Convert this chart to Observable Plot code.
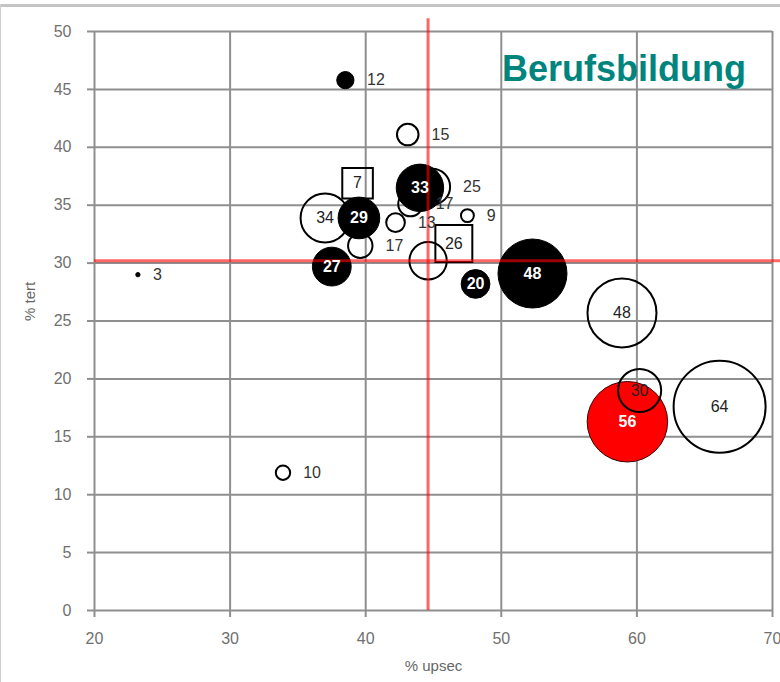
<!DOCTYPE html>
<html><head><meta charset="utf-8">
<script src="https://cdn.jsdelivr.net/npm/d3@7"></script>
<script src="https://cdn.jsdelivr.net/npm/@observablehq/plot@0.6"></script>
<style>
html,body{margin:0;padding:0;background:#fff;}
#wrap{position:relative;width:780px;height:682px;overflow:hidden;font-family:"Liberation Sans",Arial,sans-serif;}
#chart{position:absolute;left:0;top:0;}
#frameTop{position:absolute;left:0;top:4px;width:780px;height:0;border-top:3px solid #c4c4c4;}
#frameLeft{position:absolute;left:0;top:4px;width:0;height:678px;border-left:1px solid #d0d0d0;}
#title{position:absolute;left:502px;top:51px;font:bold 36px/36px "Liberation Sans",Arial,sans-serif;color:#00857e;white-space:nowrap;}
</style></head>
<body>
<div id="wrap"><div id="chart"></div><div id="frameTop"></div><div id="frameLeft"></div><div id="title">Berufsbildung</div></div>
<script>
// ---- data ----
const labels   = ["3",  "10",  "12",  "15",  "7",   "25",  "17",  "33",  "34",  "29",  "13",  "9",   "26",  "17",  "",    "27",  "20",  "48",  "48",  "30",  "56",  "64"];
const upsec    = [23.2, 33.9,  38.5,  43.1,  39.4,  44.9,  43.3,  44.0,  37.0,  39.5,  42.2,  47.5,  46.5,  39.6,  44.6,  37.5,  48.1,  52.3,  58.9,  60.2,  59.3,  66.1];
const tert     = [29.0, 11.9,  45.8,  41.1,  36.9,  36.6,  35.1,  36.5,  33.9,  33.9,  33.5,  34.1,  31.7,  31.5,  30.2,  29.7,  28.2,  29.1,  25.7,  19.0,  16.3,  17.6];
const size     = [3,    10,    12,    15,    24,    25,    17,    33,    34,    29,    13,    9,     29,    17,    26,    27,    20,    48,    48,    30,    56,    64];
const kind     = ["filled","open","filled","open","box","open","open","filled","open","filled","open","open","box","open","open","filled","filled","filled","open","open","red","open"];
const labelPos = ["right","right","right","right","inside","right","right","inside","inside","inside","right","right","inside","right","none","inside","inside","inside","inside","inside","inside","inside"];
const refUpsec = 44.6;   // red reference lines
const refTert  = 30.2;
const refSpanY = [0, 51.1];
const refSpanX = [20, 70.6];
const xTicks = [20, 30, 40, 50, 60, 70];
const yTicks = [0, 5, 10, 15, 20, 25, 30, 35, 40, 45, 50];

const pts = labels.map((t, i) => ({label: t, x: upsec[i], y: tert[i], size: size[i], kind: kind[i], pos: labelPos[i]}));
const of = k => pts.filter(d => d.kind === k);

const rOpts = {type: "linear", domain: [0, 64], range: [0, 46]};
const rScale = Plot.scale({r: rOpts});

const rightLabels = pts.filter(d => d.pos === "right").map(d =>
  Plot.text([d], {x: "x", y: "y", text: "label", textAnchor: "start", dx: rScale.apply(d.size) + 13, fill: "#333", fontSize: 16})
);

const grey = "#8f8f8f";
const chart = Plot.plot({
  width: 780, height: 682,
  marginLeft: 94, marginRight: 8, marginTop: 31, marginBottom: 72,
  style: {fontFamily: "'Liberation Sans', Arial, sans-serif", background: "transparent", overflow: "hidden"},
  x: {domain: [20, 70], label: null},
  y: {domain: [0, 50], label: null},
  r: rOpts,
  marks: [
    Plot.gridX(xTicks, {stroke: grey, strokeOpacity: 1, strokeWidth: 2}),
    Plot.gridY(yTicks, {stroke: grey, strokeOpacity: 1, strokeWidth: 2}),
    Plot.axisX(xTicks, {tickSize: 7, tickPadding: 15, stroke: grey, strokeWidth: 2, fill: "#707070", fontSize: 16, label: null}),
    Plot.axisY(yTicks, {tickSize: 7, tickPadding: 16, stroke: grey, strokeWidth: 2, fill: "#707070", fontSize: 16, label: null}),
    Plot.text(["% tert"], {frameAnchor: "left", dx: -64, rotate: -90, fill: "#666", fontSize: 15}),
    Plot.text(["% upsec"], {frameAnchor: "bottom", dy: 60, fill: "#666", fontSize: 15}),
    Plot.dot(of("red"), {x: "x", y: "y", r: "size", fill: "#ff0000", stroke: "#3a0000", strokeWidth: 1}),
    Plot.dot(of("open"), {x: "x", y: "y", r: "size", fill: "none", stroke: "#000", strokeWidth: 2}),
    Plot.dot(of("box"), {x: "x", y: "y", r: "size", symbol: "square", fill: "none", stroke: "#000", strokeWidth: 2}),
    Plot.dot(of("filled"), {x: "x", y: "y", r: "size", fill: "#000", stroke: "#000", strokeWidth: 1}),
    Plot.ruleX([refUpsec], {y1: refSpanY[0], y2: refSpanY[1], stroke: "#ff0000", strokeOpacity: 0.6, strokeWidth: 3}),
    Plot.ruleY([refTert], {x1: refSpanX[0], x2: refSpanX[1], stroke: "#ff0000", strokeOpacity: 0.6, strokeWidth: 3}),
    Plot.text(pts.filter(d => d.pos === "inside" && (d.kind === "open" || d.kind === "box")), {x: "x", y: "y", text: "label", fill: "#222", fontSize: 16}),
    Plot.text(pts.filter(d => d.pos === "inside" && (d.kind === "filled" || d.kind === "red")), {x: "x", y: "y", text: "label", fill: "#fff", fontWeight: "bold", fontSize: 16}),
    ...rightLabels
  ]
});
document.getElementById("chart").appendChild(chart);
</script>
</body></html>
